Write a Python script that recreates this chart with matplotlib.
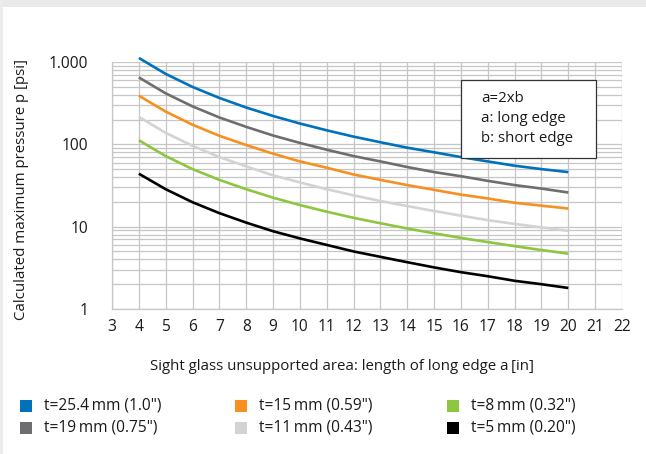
import numpy as np
import matplotlib
matplotlib.use('Agg')
import matplotlib.pyplot as plt
from matplotlib.patches import Rectangle
from matplotlib.ticker import FixedLocator, NullFormatter

plt.rcParams['font.family'] = ['Open Sans', 'DejaVu Sans']

# long edge a [in]
edge_a = [4, 5, 6, 7, 8, 9, 10, 11, 12, 13, 14, 15, 16, 17, 18, 19, 20]

# pressure values [psi]
p_254 = [1120, 717, 498, 366, 280, 221, 179, 148, 124, 106, 91, 80, 70, 62, 55, 50, 46]
p_19 = [650, 416, 289, 212, 163, 128, 104, 86, 72, 62, 53, 46, 41, 36, 32, 29, 26]
p_15 = [390, 250, 173, 127, 98, 77, 62, 52, 43, 37, 32, 28, 24.5, 22, 19.5, 18, 16.6]
p_11 = [215, 138, 96, 70, 54, 42, 34.5, 28.5, 24, 20.5, 17.8, 15.5, 13.6, 12, 10.8, 9.8, 8.9]
p_8 = [112, 72, 50, 37, 28.5, 22.5, 18.3, 15.2, 12.8, 11, 9.5, 8.3, 7.3, 6.5, 5.8, 5.2, 4.7]
p_5 = [44, 28.5, 19.8, 14.6, 11.2, 8.8, 7.2, 6, 5, 4.3, 3.7, 3.2, 2.8, 2.5, 2.2, 2.0, 1.8]

series = [p_254, p_19, p_15, p_11, p_8, p_5]
labels = ['t=25.4\u2009mm (1.0")', 't=19\u2009mm (0.75")', 't=15\u2009mm (0.59")',
          't=11\u2009mm (0.43")', 't=8\u2009mm (0.32")', 't=5\u2009mm (0.20")']
colors = ['#0072bc', '#6d6e71', '#f7901e', '#d1d3d4', '#8dc63f', '#000000']

x_ticks = list(range(3, 23))
y_ticks = [1, 10, 100, 1000]
y_ticklabels = ['1', '10', '100', '1.000']

W, H = 646, 454
fig = plt.figure(figsize=(W/100, H/100), dpi=100)
fig.patch.set_facecolor('white')
# grey frame bits of the page
fig.patches.append(Rectangle((0, 1 - 7/H), 1, 7/H, transform=fig.transFigure,
                             facecolor='#e9e9e9', edgecolor='none'))
fig.patches.append(Rectangle((0, 0), 3/W, 1, transform=fig.transFigure,
                             facecolor='#ececec', edgecolor='none'))

ax = fig.add_axes([112/W, 1 - 309/H, 510/W, 247/H])
for s, c in zip(series, colors):
    ax.plot(edge_a, s, color=c, lw=1.9, solid_capstyle='butt', zorder=3, clip_on=False)

ax.set_yscale('log')
ax.set_xlim(3, 22)
ax.set_ylim(1, 1000)
ax.set_xticks(x_ticks)
ax.set_xticklabels([str(v) for v in x_ticks])
ax.set_yticks(y_ticks)
ax.set_yticklabels(y_ticklabels)
minor = [m * 10**d for d in range(0, 3) for m in range(2, 10)]
ax.yaxis.set_minor_locator(FixedLocator(minor))
ax.yaxis.set_minor_formatter(NullFormatter())
ax.grid(True, which='both', axis='y', color='#c6c6c6', lw=0.9)
ax.grid(True, which='major', axis='x', color='#c6c6c6', lw=0.9)
ax.set_axisbelow(True)
ax.tick_params(axis='both', which='both', length=0, labelsize=11.2, colors='#1a1a1a')
ax.tick_params(axis='x', pad=7)
ax.tick_params(axis='y', pad=17)
for sp in ['top', 'right']:
    ax.spines[sp].set_visible(False)
for sp in ['left', 'bottom']:
    ax.spines[sp].set_color('#c6c6c6')
    ax.spines[sp].set_linewidth(0.9)

fig.text(342/W, 1 - 366/H, 'Sight glass unsupported area: length of long edge a\u2009[in]',
         fontsize=10.8, color='#1a1a1a', ha='center', va='center')
fig.text(22/W, 1 - 190/H, 'Calculated maximum pressure p [psi]', rotation=90,
         ha='center', va='center', fontsize=10.8, color='#1a1a1a')

# note box
fig.patches.append(Rectangle((461/W, 1 - 158/H), 135/W, 78/H, transform=fig.transFigure,
                             facecolor='white', edgecolor='#333333', lw=0.9, zorder=5))
for txt, yy in zip(['a=2xb', 'a: long edge', 'b: short edge'], [98, 118, 139]):
    fig.text(481/W, 1 - yy/H, txt, fontsize=10.8, color='#1a1a1a', va='center', ha='left',
             zorder=6)

# legend below the chart
cols_x = [20, 235, 447]
rows_y = [406, 428]
order = [(0, 0), (0, 1), (1, 0), (1, 1), (2, 0), (2, 1)]
for (ci, ri), lab, c in zip(order, labels, colors):
    x0 = cols_x[ci] / W
    y0 = 1 - rows_y[ri] / H
    fig.patches.append(Rectangle((x0, y0 - 6/H), 12/W, 12/H, transform=fig.transFigure,
                                 facecolor=c, edgecolor='none'))
    fig.text(x0 + 24/W, y0, lab, fontsize=11.2, va='center', ha='left', color='#1a1a1a')

fig.savefig('out.png', dpi=100)
